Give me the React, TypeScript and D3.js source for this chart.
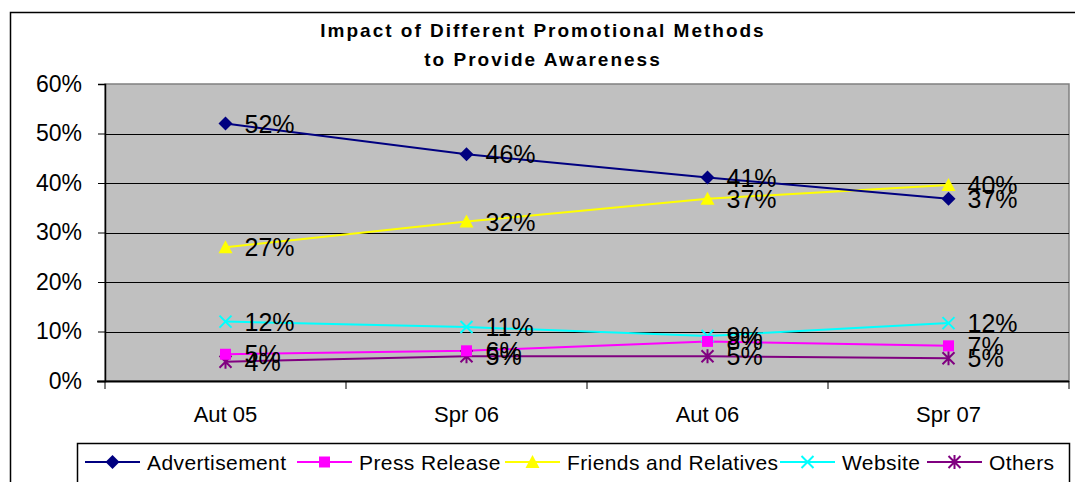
import React, { useEffect, useRef } from "react";
import * as d3 from "d3";

const categories = ["Aut 05", "Spr 06", "Aut 06", "Spr 07"];
const seriesNames = ["Advertisement", "Press Release", "Friends and Relatives", "Website", "Others"];
const advertisement = [0.52, 0.458, 0.411, 0.368];
const pressRelease = [0.054, 0.061, 0.08, 0.071];
const friends = [0.27, 0.322, 0.368, 0.396];
const website = [0.12, 0.109, 0.091, 0.117];
const others = [0.039, 0.05, 0.05, 0.046];
const labelText = [
  ["52%", "46%", "41%", "37%"],
  ["5%", "6%", "8%", "7%"],
  ["27%", "32%", "37%", "40%"],
  ["12%", "11%", "9%", "12%"],
  ["4%", "5%", "5%", "5%"],
];
const yTicks = [0, 0.1, 0.2, 0.3, 0.4, 0.5, 0.6];
const colors = ["#000080", "#FF00FF", "#FFFF00", "#00FFFF", "#800080"];
const markers = ["diamond", "square", "triangle", "x", "star"];

const FONT = "'Liberation Sans', Arial, sans-serif";

function drawMarker(g: d3.Selection<SVGGElement, unknown, null, undefined>, type: string, x: number, y: number, color: string) {
  if (type === "diamond") {
    g.append("path").attr("d", `M${x},${y - 7}L${x + 7},${y}L${x},${y + 7}L${x - 7},${y}Z`).attr("fill", color);
  } else if (type === "square") {
    g.append("rect").attr("x", x - 5.5).attr("y", y - 5.5).attr("width", 11).attr("height", 11).attr("fill", color);
  } else if (type === "triangle") {
    g.append("path").attr("d", `M${x},${y - 7}L${x + 7},${y + 6}L${x - 7},${y + 6}Z`).attr("fill", color);
  } else if (type === "x") {
    g.append("path").attr("d", `M${x - 6},${y - 6}L${x + 6},${y + 6}M${x - 6},${y + 6}L${x + 6},${y - 6}`)
      .attr("stroke", color).attr("stroke-width", 2);
  } else {
    g.append("path").attr("d", `M${x - 6},${y - 6}L${x + 6},${y + 6}M${x - 6},${y + 6}L${x + 6},${y - 6}M${x},${y - 7}L${x},${y + 7}`)
      .attr("stroke", color).attr("stroke-width", 2);
  }
}

export default function App() {
  const ref = useRef<SVGSVGElement | null>(null);

  useEffect(() => {
    if (!ref.current) return;
    const svg = d3.select(ref.current);
    svg.selectAll("*").remove();
    const width = 1075, height = 482;

    // outer chart border
    svg.append("rect").attr("x", 10.5).attr("y", 12.5).attr("width", 1080).attr("height", 500)
      .attr("fill", "white").attr("stroke", "black").attr("stroke-width", 1.5);

    // title
    const title = svg.append("text").attr("text-anchor", "middle").attr("font-family", FONT)
      .attr("font-weight", "bold").attr("font-size", 19).attr("letter-spacing", 2).attr("fill", "black");
    title.append("tspan").attr("x", 543).attr("y", 37).text("Impact of Different Promotional Methods");
    title.append("tspan").attr("x", 543).attr("y", 66).text("to Provide Awareness");

    const left = 105, right = 1069, top = 84, bottom = 381;
    const x = d3.scaleBand().domain(categories).range([left, right]);
    const y = d3.scaleLinear().domain([0, 0.6]).range([bottom, top]);

    svg.append("rect").attr("x", left).attr("y", top).attr("width", right - left).attr("height", bottom - top)
      .attr("fill", "#C0C0C0").attr("stroke", "#808080").attr("stroke-width", 1.5);

    // gridlines
    svg.append("g").selectAll("line").data(yTicks.slice(1, -1)).join("line")
      .attr("x1", left).attr("x2", right)
      .attr("y1", d => Math.round(y(d)) + 0.5).attr("y2", d => Math.round(y(d)) + 0.5)
      .attr("stroke", "#000").attr("stroke-width", 1);

    // y axis
    const yAxis = svg.append("g").attr("transform", `translate(${left},0)`)
      .call(d3.axisLeft(y).tickValues(yTicks).tickSize(7).tickPadding(16).tickFormat(d3.format(".0%")));
    yAxis.select(".domain").attr("stroke", "#000").attr("stroke-width", 1.5);
    yAxis.selectAll("line").attr("stroke", "#000");
    yAxis.selectAll("text").attr("font-family", FONT).attr("font-size", 23).attr("fill", "#000");

    // x axis
    const xg = svg.append("g");
    xg.append("line").attr("x1", left - 8).attr("x2", right).attr("y1", bottom + 0.5).attr("y2", bottom + 0.5)
      .attr("stroke", "#000").attr("stroke-width", 2);
    const boundaries = categories.map(c => x(c) as number).concat([right]);
    xg.selectAll("line.tick").data(boundaries).join("line").attr("class", "tick")
      .attr("x1", d => d).attr("x2", d => d).attr("y1", bottom).attr("y2", bottom + 8)
      .attr("stroke", "#000").attr("stroke-width", 1);
    xg.selectAll("text").data(categories).join("text")
      .attr("x", d => (x(d) as number) + x.bandwidth() / 2).attr("y", bottom + 41)
      .attr("text-anchor", "middle").attr("font-family", FONT).attr("font-size", 22).attr("fill", "#000")
      .text(d => d);

    const allSeries = [advertisement, pressRelease, friends, website, others];
    const cx = (i: number) => (x(categories[i]) as number) + x.bandwidth() / 2;
    const line = d3.line<number>().x((_, i) => cx(i)).y(d => y(d));

    // draw in reverse so Advertisement is on top
    const plot = svg.append("g");
    [4, 3, 2, 1, 0].forEach(s => {
      plot.append("path").attr("d", line(allSeries[s]) || "").attr("fill", "none")
        .attr("stroke", colors[s]).attr("stroke-width", 2);
    });
    [4, 3, 2, 1, 0].forEach(s => {
      allSeries[s].forEach((v, i) => drawMarker(plot, markers[s], cx(i), y(v), colors[s]));
    });
    [4, 3, 2, 1, 0].forEach(s => {
      allSeries[s].forEach((v, i) => {
        plot.append("text").attr("x", cx(i) + 19).attr("y", y(v)).attr("dy", "0.36em")
          .attr("font-family", FONT).attr("font-size", 25).attr("fill", "#000")
          .text(labelText[s][i]);
      });
    });

    // legend
    const lg = svg.append("g");
    lg.append("rect").attr("x", 77.5).attr("y", 443.5).attr("width", 992).attr("height", 60)
      .attr("fill", "white").attr("stroke", "black").attr("stroke-width", 1.5);
    const legendX = [85, 297, 505, 780, 927];
    seriesNames.forEach((name, s) => {
      const lx = legendX[s], ly = 462;
      lg.append("line").attr("x1", lx).attr("x2", lx + 55).attr("y1", ly).attr("y2", ly)
        .attr("stroke", colors[s]).attr("stroke-width", 2);
      drawMarker(lg as any, markers[s], lx + 27.5, ly, colors[s]);
      lg.append("text").attr("x", lx + 62).attr("y", ly).attr("dy", "0.36em")
        .attr("font-family", FONT).attr("font-size", 21).attr("letter-spacing", 0.4).attr("fill", "#000").text(name);
    });

    svg.attr("width", width).attr("height", height);
  }, []);

  return (
    <svg ref={ref} width={1075} height={482}
      style={{ position: "absolute", left: 0, top: 0, display: "block" }} />
  );
}
